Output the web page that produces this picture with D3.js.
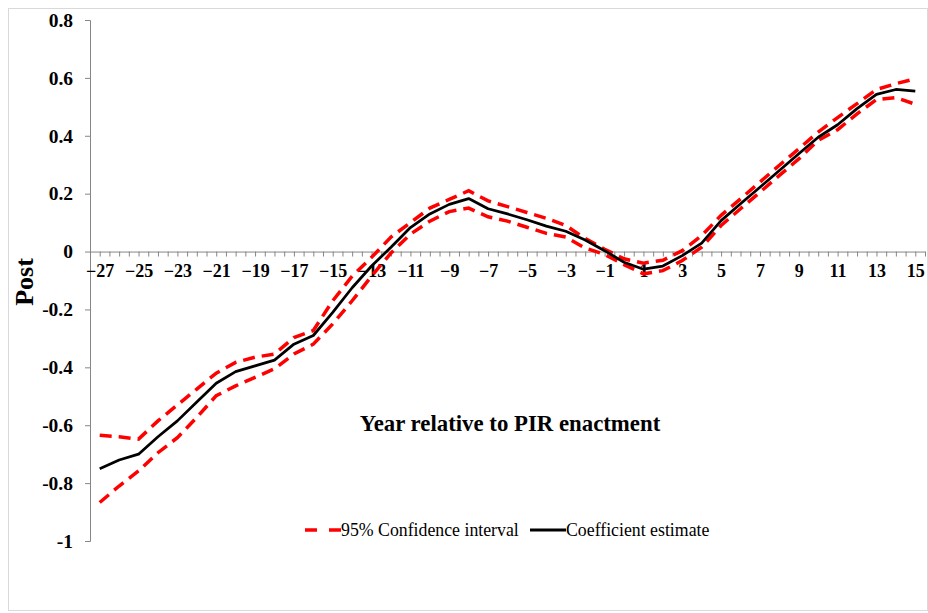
<!DOCTYPE html>
<html>
<head>
<meta charset="utf-8">
<script src="https://cdn.jsdelivr.net/npm/d3@7"></script>
<style>
  body { margin: 0; background: #fff; }
  svg { display: block; }
  svg text { font-family: "Liberation Serif", "Times New Roman", Times, serif; }
</style>
</head>
<body>
<div id="chart"></div>
<script>
// years relative to enactment
var years = d3.range(-27, 16);

var estimate = [-0.75, -0.72, -0.70, -0.64, -0.585, -0.52, -0.455, -0.415, -0.395, -0.375, -0.32, -0.29,
                -0.21, -0.125, -0.05, 0.015, 0.083, 0.13, 0.163, 0.183, 0.148, 0.13, 0.11, 0.088, 0.07, 0.04,
                0.003, -0.037, -0.061, -0.05, -0.014, 0.029, 0.107, 0.165, 0.222, 0.28, 0.338, 0.395, 0.438,
                0.494, 0.543, 0.56, 0.554];

var upper = [-0.635, -0.64, -0.648, -0.585, -0.53, -0.475, -0.42, -0.383, -0.365, -0.354, -0.297, -0.273,
             -0.17, -0.085, -0.02, 0.05, 0.10, 0.15, 0.18, 0.21, 0.175, 0.155, 0.135, 0.115, 0.09, 0.045,
             0.008, -0.025, -0.04, -0.03, 0.003, 0.055, 0.125, 0.182, 0.24, 0.298, 0.355, 0.413, 0.463,
             0.511, 0.56, 0.58, 0.597];

var lower = [-0.867, -0.81, -0.758, -0.695, -0.643, -0.573, -0.498, -0.464, -0.435, -0.405, -0.354, -0.32,
             -0.25, -0.17, -0.085, -0.005, 0.06, 0.105, 0.138, 0.15, 0.12, 0.105, 0.084, 0.063, 0.05, 0.012,
             -0.01, -0.045, -0.077, -0.066, -0.031, 0.015, 0.09, 0.148, 0.205, 0.263, 0.32, 0.384, 0.421,
             0.476, 0.525, 0.532, 0.509];

var yTicks = [-1, -0.8, -0.6, -0.4, -0.2, 0, 0.2, 0.4, 0.6, 0.8];
var xLabels = d3.range(-27, 16, 2);

var width = 928, height = 613;
var serif = "'Liberation Serif', 'Times New Roman', Times, serif";

var svg = d3.select("#chart").append("svg")
    .attr("width", width)
    .attr("height", height);

// outer frame
svg.append("rect")
    .attr("x", 8.5).attr("y", 8.5)
    .attr("width", width - 9).attr("height", 602)
    .attr("fill", "none")
    .attr("stroke", "#d9d9d9");

var x = d3.scaleLinear().domain([-27.5, 15.5]).range([90, 925]);
var y = d3.scaleLinear().domain([-1, 0.8]).range([541, 20]);

// y axis
var yAxis = svg.append("g")
    .attr("transform", "translate(90,0)")
    .call(d3.axisLeft(y).tickValues(yTicks).tickSize(5).tickPadding(12)
        .tickFormat(function(d) { return String(+d.toFixed(1)); }));
yAxis.attr("font-family", null).attr("font-size", null);
yAxis.select(".domain").attr("stroke", "#868686");
yAxis.selectAll(".tick line").attr("stroke", "#868686");
yAxis.selectAll("text")
    .style("font-family", serif)
    .style("font-weight", "bold")
    .style("font-size", "19.5px")
    .attr("fill", "#000");

// x axis line at zero with half-step ticks
var xAxis = svg.append("g")
    .attr("transform", "translate(0," + y(0) + ")")
    .call(d3.axisBottom(x).tickValues(d3.range(-27.5, 15.6, 0.5)).tickSizeInner(5).tickSizeOuter(0)
        .tickFormat(""));
xAxis.select(".domain").attr("stroke", "#868686");
xAxis.selectAll(".tick line").attr("stroke", "#868686");

// x tick labels
var xLab = svg.append("g")
    .attr("transform", "translate(0," + y(0) + ")")
    .call(d3.axisBottom(x).tickValues(xLabels).tickSize(0).tickPadding(13));
xLab.attr("font-family", null).attr("font-size", null);
xLab.select(".domain").remove();
xLab.selectAll("text")
    .style("font-family", serif)
    .style("font-weight", "bold")
    .style("font-size", "18px")
    .attr("fill", "#000");

var line = d3.line()
    .x(function(d, i) { return x(years[i]); })
    .y(function(d) { return y(d); });

[upper, lower].forEach(function(s) {
    svg.append("path")
        .attr("d", line(s))
        .attr("fill", "none")
        .attr("stroke", "#ff0000")
        .attr("stroke-width", 3.5)
        .attr("stroke-dasharray", "12,7");
});

svg.append("path")
    .attr("d", line(estimate))
    .attr("fill", "none")
    .attr("stroke", "#000")
    .attr("stroke-width", 2.75)
    .attr("stroke-linejoin", "round");

// titles
svg.append("text")
    .attr("x", 510).attr("y", 431)
    .attr("text-anchor", "middle")
    .style("font-family", serif)
    .style("font-weight", "bold")
    .style("font-size", "22.8px")
    .text("Year relative to PIR enactment");

svg.append("text")
    .attr("transform", "translate(33,282) rotate(-90)")
    .attr("text-anchor", "middle")
    .style("font-family", serif)
    .style("font-weight", "bold")
    .style("font-size", "26px")
    .text("Post");

// legend
var legend = svg.append("g").attr("transform", "translate(0,530)");
legend.append("line")
    .attr("x1", 305).attr("x2", 341).attr("y1", 0).attr("y2", 0)
    .attr("stroke", "#ff0000").attr("stroke-width", 3.5)
    .attr("stroke-dasharray", "12,12");
legend.append("text")
    .attr("x", 341).attr("y", 5.5)
    .style("font-family", serif)
    .style("font-size", "17.8px")
    .text("95% Confidence interval");
legend.append("line")
    .attr("x1", 530).attr("x2", 566).attr("y1", 0).attr("y2", 0)
    .attr("stroke", "#000").attr("stroke-width", 3);
legend.append("text")
    .attr("x", 566).attr("y", 5.5)
    .style("font-family", serif)
    .style("font-size", "17.8px")
    .text("Coefficient estimate");
</script>
</body>
</html>
